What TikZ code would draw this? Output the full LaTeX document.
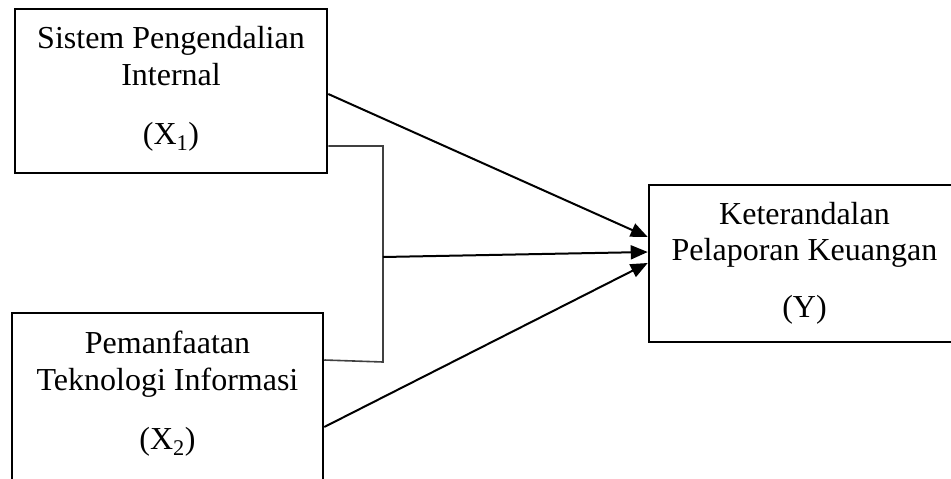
\documentclass[tikz,border=0pt]{standalone}
\usepackage{fontspec}
\setmainfont{Liberation Serif}
\usetikzlibrary{arrows.meta}
\begin{document}
\begin{tikzpicture}[x=1pt,y=-1pt,
 box/.style={draw, line width=2.5pt, inner sep=0pt},
 lbl/.style={anchor=base, inner sep=0pt, font=\fontsize{32}{37}\selectfont},
 arr/.style={line width=2pt, -{Triangle[length=17pt,width=14pt]}},
 brk/.style={line width=1.6pt, draw=black!75}]
\useasboundingbox (0,0) rectangle (951,479);
\clip (0,0) rectangle (951,479);
\node[box, minimum width=312pt, minimum height=164pt] (x1) at (171,91) {};
\node[box, minimum width=311pt, minimum height=187pt] (x2) at (167.5,406.5) {};
\node[box, minimum width=311pt, minimum height=157pt] (y) at (804.5,263.5) {};
\node[lbl] (t1a) at (171,48) {Sistem Pengendalian};
\node[lbl] (t1b) at (171,85) {Internal};
\node[lbl] (t1c) at (171,144) {(X\textsubscript{1})};
\node[lbl] (t2a) at (167.5,353) {Pemanfaatan};
\node[lbl] (t2b) at (167.5,390) {Teknologi Informasi};
\node[lbl] (t2c) at (167.5,449) {(X\textsubscript{2})};
\node[lbl] (t3a) at (804.5,224) {Keterandalan};
\node[lbl] (t3b) at (804.5,260) {Pelaporan Keuangan};
\node[lbl] (t3c) at (804.5,317) {(Y)};
\coordinate (j1) at (383,146);
\coordinate (j2) at (383,362);
\coordinate (jm) at (383,257);
\draw[arr] (x1.east |- 0,94) -- (y.west |- 0,237);
\draw[brk] (x1.east |- 0,146) -- (j1) -- (j2) -- (x2.east |- 0,360);
\draw[arr] (jm) -- (y.west |- 0,252);
\draw[arr] (x2.east |- 0,427) -- (y.west |- 0,263);
\end{tikzpicture}
\end{document}
